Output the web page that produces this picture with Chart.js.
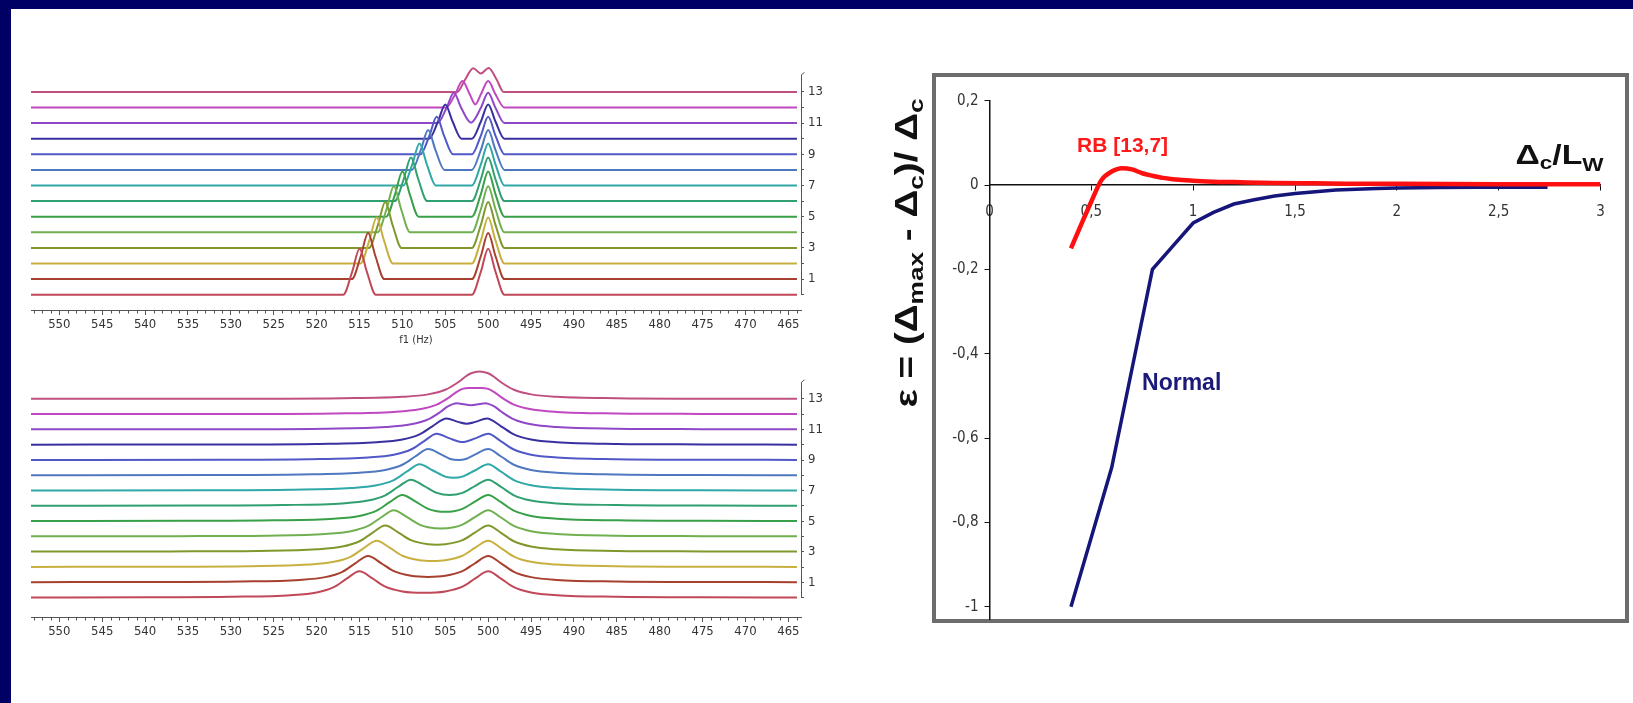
<!DOCTYPE html>
<html><head><meta charset="utf-8">
<script src="https://cdn.jsdelivr.net/npm/chart.js@4.4.0/dist/chart.umd.min.js"></script>
<style>
html,body{margin:0;padding:0;width:1633px;height:703px;overflow:hidden;background:#000064;}
#white{position:absolute;left:11px;top:9px;width:1622px;height:694px;background:#fff;}
#frame{position:absolute;left:932px;top:73px;width:697px;height:550px;box-sizing:border-box;border:4px solid #6c6c6c;}
canvas{position:absolute;}
</style></head><body>
<div id="white"></div>
<div id="frame"></div>
<canvas id="cTop" width="860" height="352" style="left:0;top:0"></canvas>
<canvas id="cBot" width="860" height="351" style="left:0;top:352px"></canvas>
<canvas id="cRight" width="753" height="620" style="left:880px;top:60px"></canvas>
<script>
// ---------- DATA ----------
const freqTicks = [550,545,540,535,530,525,520,515,510,505,500,495,490,485,480,475,470,465];
const stackTicks = [0,1,2,3,4,5,6,7,8,9,10,11,12,13];
// top panel spectra: [Hz, height in trace-spacing units], trace 0 (bottom) .. 13 (top)
const topSpectra = [
 [[553.3,0],[516.9,0],[515.85,1.48],[515,2.95],[514.15,1.48],[513.1,0],[501.9,0],[500.85,1.48],[500,2.95],[499.15,1.48],[498.1,0],[464,0]],
 [[553.3,0],[515.9,0],[514.85,1.48],[514,2.95],[513.15,1.48],[512.1,0],[501.9,0],[500.85,1.48],[500,2.95],[499.15,1.48],[498.1,0],[464,0]],
 [[553.3,0],[514.9,0],[513.85,1.48],[513,2.95],[512.15,1.48],[511.1,0],[501.9,0],[500.85,1.48],[500,2.95],[499.15,1.48],[498.1,0],[464,0]],
 [[553.3,0],[513.9,0],[512.85,1.48],[512,2.95],[511.15,1.48],[510.1,0],[501.9,0],[500.85,1.48],[500,2.95],[499.15,1.48],[498.1,0],[464,0]],
 [[553.3,0],[512.9,0],[511.85,1.48],[511,2.95],[510.15,1.48],[509.1,0],[501.9,0],[500.85,1.48],[500,2.95],[499.15,1.48],[498.1,0],[464,0]],
 [[553.3,0],[511.9,0],[510.85,1.45],[510,2.9],[509.15,1.45],[508.1,0],[501.9,0],[500.85,1.45],[500,2.9],[499.15,1.45],[498.1,0],[464,0]],
 [[553.3,0],[510.9,0],[509.85,1.4],[509,2.8],[508.15,1.4],[507.1,0],[501.9,0],[500.85,1.4],[500,2.8],[499.15,1.4],[498.1,0],[464,0]],
 [[553.3,0],[509.9,0],[508.85,1.35],[508,2.7],[507.15,1.35],[506.1,0],[501.9,0],[500.85,1.35],[500,2.7],[499.15,1.35],[498.1,0],[464,0]],
 [[553.3,0],[508.9,0],[507.85,1.28],[507,2.55],[506.15,1.28],[505.1,0],[501.9,0],[500.85,1.28],[500,2.55],[499.15,1.28],[498.1,0],[464,0]],
 [[553.3,0],[507.9,0],[506.85,1.2],[506,2.4],[505.15,1.2],[504.1,0],[501.9,0],[500.85,1.2],[500,2.4],[499.15,1.2],[498.1,0],[464,0]],
 [[553.3,0],[506.9,0],[505.85,1.1],[505,2.2],[504.15,1.1],[503.1,0],[501.9,0],[500.85,1.1],[500,2.2],[499.15,1.1],[498.1,0],[464,0]],
 [[553.3,0],[505.9,0],[504.85,0.98],[504,1.95],[503.15,0.98],[502,0.03],[500.85,0.98],[500,1.95],[499.15,0.98],[498.1,0],[464,0]],
 [[553.3,0],[504.9,0],[503.85,0.85],[503,1.7],[502.15,0.85],[501.5,0.2],[500.85,0.85],[500,1.7],[499.15,0.85],[498.1,0],[464,0]],
 [[553.3,0],[503.6,0],[502.7,0.78],[501.75,1.52],[500.85,1.18],[499.95,1.53],[499.0,0.78],[498.2,0],[464,0]]
];
// bottom panel spectra
const bottomSpectra = [
 [[553.3,0.01],[540,0.021],[530,0.053],[523,0.157],[520,0.338],[518,0.684],[516.5,1.241],[515,1.72],[513.5,1.258],[512,0.719],[510,0.405],[507.5,0.312],[505,0.405],[503,0.719],[501.5,1.258],[500,1.72],[498.5,1.241],[497,0.684],[495,0.338],[492,0.157],[485,0.053],[475,0.021],[464,0.01]],
 [[553.3,0.01],[539,0.022],[529,0.053],[522,0.158],[519,0.339],[517,0.685],[515.5,1.241],[514,1.72],[512.5,1.262],[511,0.728],[509,0.424],[507,0.351],[505,0.424],[503,0.728],[501.5,1.262],[500,1.72],[498.5,1.241],[497,0.685],[495,0.339],[492,0.158],[485,0.053],[475,0.022],[464,0.01]],
 [[553.3,0.01],[538,0.022],[528,0.054],[521,0.159],[518,0.34],[516,0.686],[514.5,1.242],[513,1.72],[511.5,1.267],[510,0.74],[508,0.449],[506.5,0.4],[505,0.449],[503,0.74],[501.5,1.267],[500,1.72],[498.5,1.242],[497,0.686],[495,0.34],[492,0.159],[485,0.054],[475,0.022],[464,0.01]],
 [[553.3,0.01],[537,0.022],[527,0.054],[520,0.16],[517,0.342],[515,0.687],[513.5,1.241],[512,1.72],[510.5,1.273],[509,0.756],[507,0.484],[506,0.457],[505,0.484],[503,0.756],[501.5,1.273],[500,1.72],[498.5,1.241],[497,0.687],[495,0.342],[492,0.16],[485,0.054],[475,0.022],[464,0.01]],
 [[553.3,0.01],[536,0.022],[526,0.055],[519,0.162],[516,0.344],[514,0.689],[512.5,1.241],[511,1.72],[509.5,1.281],[508,0.778],[507,0.609],[505.5,0.526],[504,0.609],[503,0.778],[501.5,1.281],[500,1.72],[498.5,1.241],[497,0.689],[495,0.344],[492,0.162],[485,0.055],[475,0.022],[464,0.01]],
 [[553.3,0.01],[535,0.023],[525,0.056],[518,0.163],[515,0.346],[513,0.69],[511.5,1.241],[510,1.72],[508.5,1.293],[507,0.807],[506,0.657],[505,0.61],[504,0.657],[503,0.807],[501.5,1.293],[500,1.72],[498.5,1.241],[497,0.69],[495,0.346],[492,0.163],[485,0.056],[475,0.023],[464,0.01]],
 [[553.3,0.01],[534,0.023],[524,0.056],[517,0.165],[514,0.348],[512,0.691],[510.5,1.24],[509,1.72],[507.5,1.31],[506,0.852],[504.5,0.713],[503,0.852],[501.5,1.31],[500,1.72],[498.5,1.24],[497,0.691],[495,0.348],[492,0.165],[485,0.056],[475,0.023],[464,0.01]],
 [[553.3,0.01],[533,0.023],[523,0.057],[516,0.166],[513,0.35],[511,0.692],[509.5,1.238],[508,1.72],[506.5,1.333],[505,0.917],[504,0.842],[503,0.917],[501.5,1.333],[500,1.72],[498.5,1.238],[497,0.692],[495,0.35],[492,0.166],[485,0.057],[475,0.023],[464,0.01]],
 [[553.3,0.01],[532,0.023],[522,0.057],[515,0.168],[512,0.351],[510,0.692],[508.5,1.234],[507,1.72],[505.5,1.369],[504.5,1.091],[503.5,0.997],[502.5,1.091],[501.5,1.369],[500,1.72],[498.5,1.234],[497,0.692],[495,0.351],[492,0.168],[485,0.057],[475,0.023],[464,0.01]],
 [[553.3,0.01],[531,0.023],[521,0.057],[514,0.168],[511,0.351],[509,0.69],[507.5,1.227],[506,1.72],[504.5,1.42],[503,1.179],[501.5,1.42],[500,1.72],[498.5,1.227],[497,0.69],[495,0.351],[492,0.168],[485,0.057],[475,0.023],[464,0.01]],
 [[553.3,0.01],[530,0.023],[520,0.057],[513,0.167],[510,0.348],[508,0.681],[506.5,1.21],[504.85,1.72],[503.5,1.498],[502.5,1.384],[501.5,1.498],[500.15,1.72],[498.5,1.21],[497,0.681],[495,0.348],[492,0.167],[485,0.057],[475,0.023],[464,0.01]],
 [[553.3,0.01],[529,0.022],[519,0.055],[512,0.162],[509,0.34],[507,0.664],[505.5,1.18],[504.75,1.495],[503.65,1.72],[503,1.667],[502,1.584],[501,1.667],[500.35,1.72],[499.25,1.495],[498.5,1.18],[497,0.664],[495,0.34],[492,0.162],[485,0.055],[475,0.022],[464,0.01]],
 [[553.3,0.01],[528,0.02],[518,0.051],[511,0.153],[508,0.321],[506,0.629],[504.5,1.12],[503.75,1.433],[503,1.657],[502.25,1.72],[501.5,1.714],[500.75,1.72],[500,1.657],[499.25,1.433],[498.5,1.12],[497,0.629],[495,0.321],[492,0.153],[485,0.051],[475,0.02],[464,0.01]],
 [[553.3,0.008],[527,0.017],[517,0.045],[510,0.14],[507,0.3],[505,0.6],[503.5,1.09],[502.75,1.42],[502,1.68],[501,1.8],[500,1.68],[499.25,1.42],[498.5,1.09],[497,0.6],[495,0.3],[492,0.14],[485,0.045],[475,0.017],[464,0.008]]
];
// right chart
const ratioTicks = [0,0.5,1,1.5,2,2.5,3];
const epsTicks = [0.2,0,-0.2,-0.4,-0.6,-0.8,-1];
const normalX = [0.4,0.5,0.6,0.7,0.8,0.9,1.0,1.1,1.2,1.3,1.4,1.5,1.6,1.7,1.8,1.9,2.0,2.2,2.4,2.6,2.74];
const normalY = [-1.0,-0.835,-0.67,-0.435,-0.2,-0.145,-0.09,-0.065,-0.045,-0.035,-0.026,-0.02,-0.016,-0.012,-0.01,-0.008,-0.007,-0.006,-0.005,-0.005,-0.005];
const rbX = [0.4,0.45,0.5,0.55,0.6,0.65,0.7,0.75,0.8,0.85,0.9,0.95,1.0,1.1,1.2,1.4,1.6,1.8,2.0,2.5,3.0];
const rbY = [-0.15,-0.094,-0.039,0.012,0.032,0.04,0.037,0.028,0.022,0.017,0.014,0.012,0.01,0.008,0.007,0.005,0.004,0.003,0.003,0.002,0.002];

// ---------- STYLE ----------
const traceColors = ['#c04858','#a84030','#c8b040','#80982c','#70b050','#38a048','#30a070','#30a8a8','#5078c0','#5058c8','#3830a0','#9048c8','#c048c0','#c05080'];
const NARROW = '"Liberation Sans Narrow","DejaVu Sans Condensed",sans-serif';
const SANS = '"Liberation Sans",Arial,sans-serif';
Chart.defaults.font.family = NARROW;

const stackAxisPlugin = {
  id:'stackAxis',
  afterDraw(chart){
    const {ctx, chartArea, scales} = chart;
    const y = scales.y, x = scales.x;
    const ax = Math.round(chartArea.right)+0.5;
    ctx.save();
    ctx.strokeStyle = '#555'; ctx.lineWidth = 1;
    ctx.beginPath();
    ctx.moveTo(ax, y.getPixelForValue(0));
    ctx.lineTo(ax, y.getPixelForValue(14.1));
    ctx.lineTo(ax+3, y.getPixelForValue(14.25));
    ctx.stroke();
    const by = Math.round(chartArea.bottom)+0.5;
    ctx.beginPath();
    for (let v = 464; v <= 553; v += 1) {
      if (v % 5 === 0) continue;
      const px = Math.round(x.getPixelForValue(v))+0.5;
      ctx.moveTo(px, by); ctx.lineTo(px, by+3);
    }
    ctx.stroke();
    ctx.restore();
  }
};

function spectraChart(id, spectra, yMin, yMax, pad, withTitle) {
  return new Chart(document.getElementById(id), {
    type:'scatter',
    data:{ datasets: spectra.map((s,k)=>({
      data: s.map(p=>({x:p[0], y:k+p[1]})),
      showLine:true, borderColor:traceColors[k], borderWidth:2,
      pointRadius:0, cubicInterpolationMode:'monotone', fill:false
    }))},
    options:{
      responsive:false, animation:false, devicePixelRatio:1,
      layout:{padding:pad},
      plugins:{legend:{display:false}, tooltip:{enabled:false}},
      scales:{
        x:{ type:'linear', reverse:true, min:463.53, max:553.3, position:'bottom',
          afterBuildTicks:s=>{ s.ticks = freqTicks.map(v=>({value:v})); },
          afterFit:s=>{ s.height = 36; },
          grid:{drawOnChartArea:false, drawTicks:true, tickLength:5, color:'#555'},
          border:{display:true, color:'#555', width:1},
          ticks:{font:{size:13}, color:'#333', padding:2, maxRotation:0, autoSkip:false},
          title:{display:withTitle, text:'f1 (Hz)', color:'#333', font:{size:11, lineHeight:1.1}, padding:{top:0,bottom:0}}
        },
        y:{ type:'linear', position:'right', min:yMin, max:yMax,
          afterBuildTicks:s=>{ s.ticks = stackTicks.map(v=>({value:v})); },
          afterFit:s=>{ s.width = 30; },
          grid:{drawOnChartArea:false, drawTicks:true, tickLength:3, color:'#555'},
          border:{display:false},
          ticks:{callback:v=> (v%2===1 ? String(v) : ''), font:{size:13}, color:'#333', padding:4, autoSkip:false}
        }
      }
    },
    plugins:[stackAxisPlugin]
  });
}

spectraChart('cTop', topSpectra, -0.981, 15.686, {left:31, right:29, top:50, bottom:6}, true);
spectraChart('cBot', bottomSpectra, -1.27, 15.30, {left:31, right:29, top:8, bottom:50}, false);

// ---------- RIGHT CHART ----------
function drawRich(ctx, segs, x, y, align, targetW) {
  let w = 0;
  segs.forEach(s=>{ ctx.font = 'bold '+s[1]+'px '+SANS; s.w = ctx.measureText(s[0]).width; w += s.w; });
  const sx = targetW ? targetW / w : 1;
  ctx.save();
  ctx.translate(x, y);
  ctx.scale(sx, 1);
  let cx = align==='center' ? -w/2 : (align==='right' ? -w : 0);
  segs.forEach(s=>{ ctx.font = 'bold '+s[1]+'px '+SANS; ctx.fillText(s[0], cx, s[2]); cx += s.w; });
  ctx.restore();
}
const labelPlugin = {
  id:'labels',
  afterDraw(chart){
    const {ctx, scales:{x,y}} = chart;
    ctx.save();
    ctx.textBaseline = 'alphabetic';
    ctx.save();
    ctx.fillStyle = '#111';
    ctx.translate(37, 193);
    ctx.rotate(-Math.PI/2);
    drawRich(ctx, [['\u03b5 = (\u0394',31,0],['max',21,6],[' - \u0394',31,0],['c',21,6],[')/ \u0394',31,0],['c',21,6]], 0, 0, 'center', 309);
    ctx.restore();
    ctx.fillStyle = '#111';
    drawRich(ctx, [['\u0394',27,0],['c',18,5],['/L',27,0],['W',18,7]], x.getPixelForValue(3.015), y.getPixelForValue(0.05), 'right', 88);
    ctx.textBaseline = 'middle';
    ctx.fillStyle = '#ff1a1a';
    drawRich(ctx, [['RB [13,7]',21,0]], x.getPixelForValue(0.43), y.getPixelForValue(0.0925), 'left');
    ctx.fillStyle = '#1a1a7a';
    drawRich(ctx, [['Normal',23,0]], x.getPixelForValue(0.749), y.getPixelForValue(-0.47), 'left');
    ctx.restore();
  }
};
const fmt = v => String(Math.round(v*10)/10).replace('.', ',');
new Chart(document.getElementById('cRight'), {
  type:'scatter',
  data:{datasets:[
    {label:'RB [13,7]', data: rbX.map((v,i)=>({x:v, y:rbY[i]})), showLine:true, borderColor:'#ff1010', borderWidth:4.5, pointRadius:0, cubicInterpolationMode:'monotone'},
    {label:'Normal', data: normalX.map((v,i)=>({x:v, y:normalY[i]})), showLine:true, borderColor:'#15157a', borderWidth:3.5, pointRadius:0}
  ]},
  options:{
    responsive:false, animation:false, devicePixelRatio:1,
    layout:{padding:{left:49.5, right:32.5, top:40.7, bottom:61}},
    plugins:{legend:{display:false}, tooltip:{enabled:false}},
    scales:{
      x:{ type:'linear', min:0, max:3, position:{y:0},
        afterBuildTicks:s=>{ s.ticks = ratioTicks.map(v=>({value:v})); },
        afterFit:s=>{ s.height = 0; },
        grid:{drawOnChartArea:false, drawTicks:true, tickLength:5, color:'#111'},
        border:{display:true, color:'#111', width:1.5},
        ticks:{callback:fmt, font:{size:15}, color:'#333', padding:13, maxRotation:0, autoSkip:false}
      },
      y:{ type:'linear', min:-1.029, max:0.2, position:'left',
        afterBuildTicks:s=>{ s.ticks = epsTicks.map(v=>({value:v})); },
        afterFit:s=>{ s.width = 60; },
        grid:{drawOnChartArea:false, drawTicks:true, tickLength:5, color:'#111'},
        border:{display:true, color:'#111', width:1.5},
        ticks:{callback:fmt, font:{size:15}, color:'#333', padding:6, autoSkip:false}
      }
    }
  },
  plugins:[labelPlugin]
});
</script>
</body></html>
